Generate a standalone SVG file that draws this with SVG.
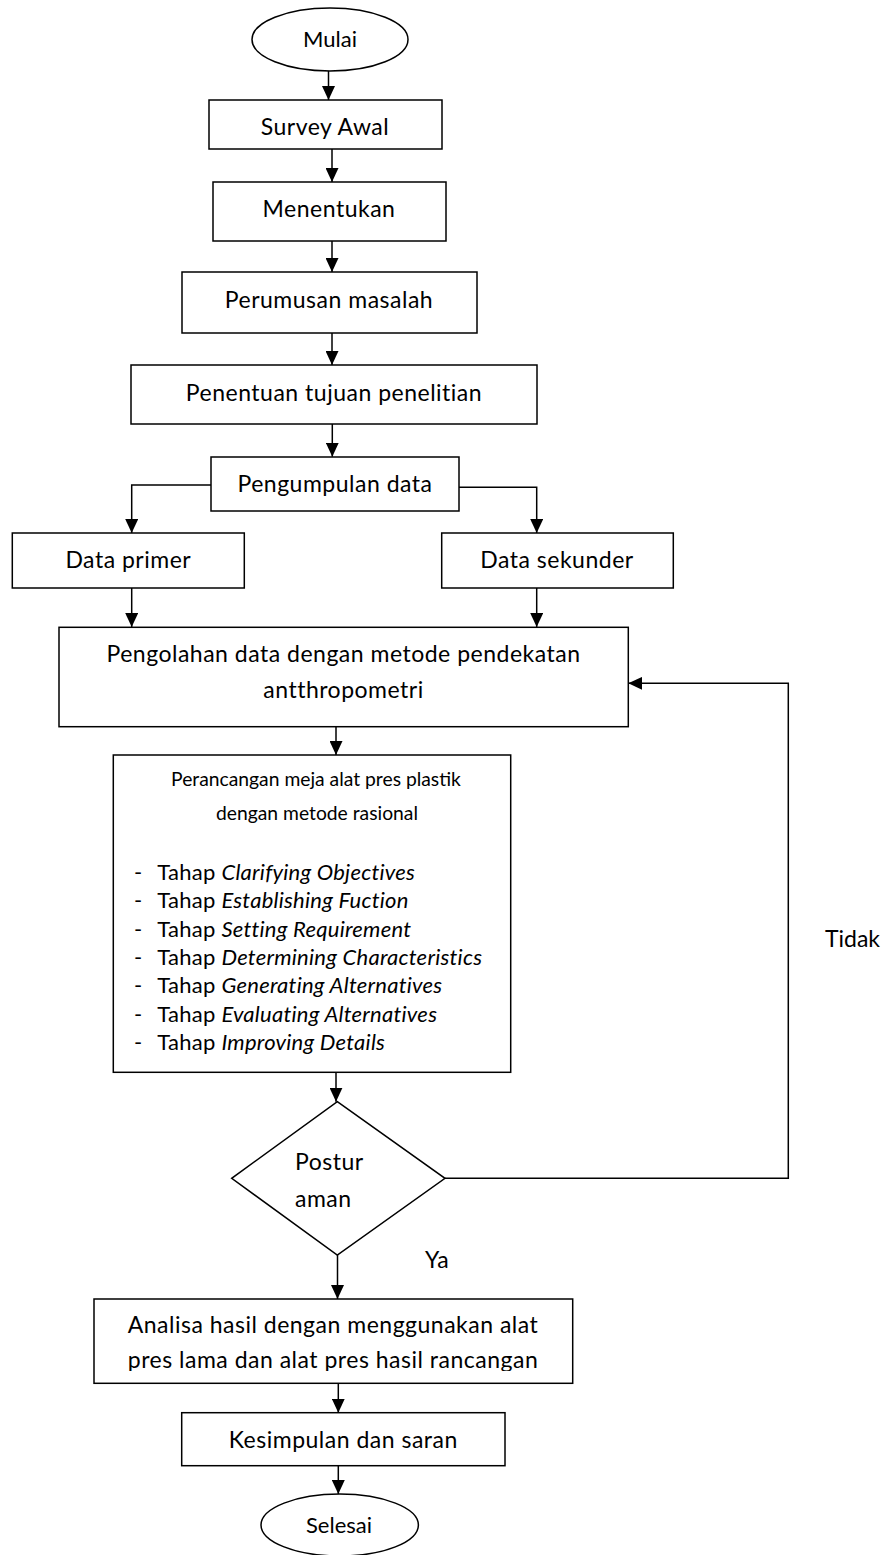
<svg xmlns="http://www.w3.org/2000/svg" width="885" height="1555" viewBox="0 0 885 1555">
<defs>
<marker id="arr" markerWidth="14" markerHeight="13" refX="14" refY="6.5" orient="auto" markerUnits="userSpaceOnUse"><path d="M0,0 L14,6.5 L0,13 Z" fill="#000"/></marker>
<clipPath id="clipA"><rect x="90" y="1299" width="490" height="72"/></clipPath>
</defs>
<style>
.box{fill:#fff;stroke:#000;stroke-width:1.5}
.t{font-family:Lato,"Liberation Sans",sans-serif;font-size:23px;letter-spacing:0.5px;fill:#000;text-anchor:middle}
.l{font-family:Lato,"Liberation Sans",sans-serif;font-size:23px;letter-spacing:0.5px;fill:#000;text-anchor:start}
.s{font-size:22px;letter-spacing:0}
.h{font-size:19.3px;letter-spacing:0}
.li{font-size:22px;letter-spacing:0.25px}
.i{font-style:italic}
.c{fill:none;stroke:#000;stroke-width:1.5;marker-end:url(#arr)}
</style>
<rect width="885" height="1555" fill="#fff"/>
<g id="connectors">
<path class="c" d="M328.5,71 V100"/>
<path class="c" d="M332,149 V182"/>
<path class="c" d="M332,241 V272"/>
<path class="c" d="M332,333 V365"/>
<path class="c" d="M332.3,424 V456.7"/>
<path class="c" d="M211,485 H131.7 V533"/>
<path class="c" d="M459,487.3 H536.7 V533"/>
<path class="c" d="M131.7,588 V627"/>
<path class="c" d="M536.7,588 V627"/>
<path class="c" d="M336,726.7 V755"/>
<path class="c" d="M336,1072.3 V1101.7"/>
<path class="c" d="M445,1178.3 H788.3 V683.3 H628.3"/>
<path class="c" d="M337.5,1255 V1299"/>
<path class="c" d="M338.3,1383.3 V1412.7"/>
<path class="c" d="M338.3,1465.7 V1494"/>
</g>
<g id="mulai"><ellipse class="box" cx="330" cy="39.5" rx="78" ry="31.5"/><text class="t s" x="330" y="46.7">Mulai</text></g>
<g id="survey"><rect class="box" x="209" y="100" width="233" height="49"/><text class="t" x="325" y="135">Survey Awal</text></g>
<g id="menentukan"><rect class="box" x="213" y="182" width="233" height="59"/><text class="t" x="329" y="216.7">Menentukan</text></g>
<g id="perumusan"><rect class="box" x="182" y="272" width="295" height="61"/><text class="t" x="329" y="308">Perumusan masalah</text></g>
<g id="penentuan"><rect class="box" x="131" y="365" width="406" height="59"/><text class="t" x="334" y="400.7">Penentuan tujuan penelitian</text></g>
<g id="pengumpulan"><rect class="box" x="211" y="457" width="248" height="54"/><text class="t" x="335" y="491.7">Pengumpulan data</text></g>
<g id="primer"><rect class="box" x="12.3" y="533" width="232" height="55"/><text class="t" x="128.3" y="567.7">Data primer</text></g>
<g id="sekunder"><rect class="box" x="441.7" y="533" width="231.6" height="55"/><text class="t" x="557" y="567.7">Data sekunder</text></g>
<g id="pengolahan"><rect class="box" x="59" y="627.3" width="569.3" height="99.4"/><text class="t" x="343.5" y="661.7">Pengolahan data dengan metode pendekatan</text><text class="t" x="343.5" y="698.3">antthropometri</text></g>
<g id="perancangan"><rect class="box" x="113.3" y="755" width="397.4" height="317.3"/>
<text class="t h" x="316" y="786">Perancangan meja alat pres plastik</text>
<text class="t h" x="317" y="820">dengan metode rasional</text>
<text class="l li" x="134" y="880">-</text><text class="l li" x="157.3" y="880">Tahap <tspan class="i">Clarifying Objectives</tspan></text>
<text class="l li" x="134" y="908.3">-</text><text class="l li" x="157.3" y="908.3">Tahap <tspan class="i">Establishing Fuction</tspan></text>
<text class="l li" x="134" y="936.7">-</text><text class="l li" x="157.3" y="936.7">Tahap <tspan class="i">Setting Requirement</tspan></text>
<text class="l li" x="134" y="965">-</text><text class="l li" x="157.3" y="965">Tahap <tspan class="i">Determining Characteristics</tspan></text>
<text class="l li" x="134" y="993.3">-</text><text class="l li" x="157.3" y="993.3">Tahap <tspan class="i">Generating Alternatives</tspan></text>
<text class="l li" x="134" y="1021.7">-</text><text class="l li" x="157.3" y="1021.7">Tahap <tspan class="i">Evaluating Alternatives</tspan></text>
<text class="l li" x="134" y="1050">-</text><text class="l li" x="157.3" y="1050">Tahap <tspan class="i">Improving Details</tspan></text>
</g>
<g id="postur"><polygon class="box" points="337.3,1101.7 445,1178.3 337.3,1255 231.7,1178.3"/><text class="l" x="295" y="1170">Postur</text><text class="l" x="295" y="1206.7">aman</text></g>
<g id="analisa"><rect class="box" x="94" y="1299" width="478.7" height="84.3"/><g clip-path="url(#clipA)"><text class="t" x="333" y="1333.3">Analisa hasil dengan menggunakan alat</text><text class="t" x="333" y="1368.3">pres lama dan alat pres hasil rancangan</text></g></g>
<g id="kesimpulan"><rect class="box" x="181.7" y="1412.7" width="323.3" height="53"/><text class="t" x="343.3" y="1448.3">Kesimpulan dan saran</text></g>
<g id="selesai"><ellipse class="box" cx="339.7" cy="1525" rx="78.7" ry="31"/><text class="t s" x="339" y="1533.3">Selesai</text></g>
<g id="labels"><text class="l" x="825" y="946.7" style="letter-spacing:0">Tidak</text><text class="l" x="425" y="1268.3">Ya</text></g>
</svg>
